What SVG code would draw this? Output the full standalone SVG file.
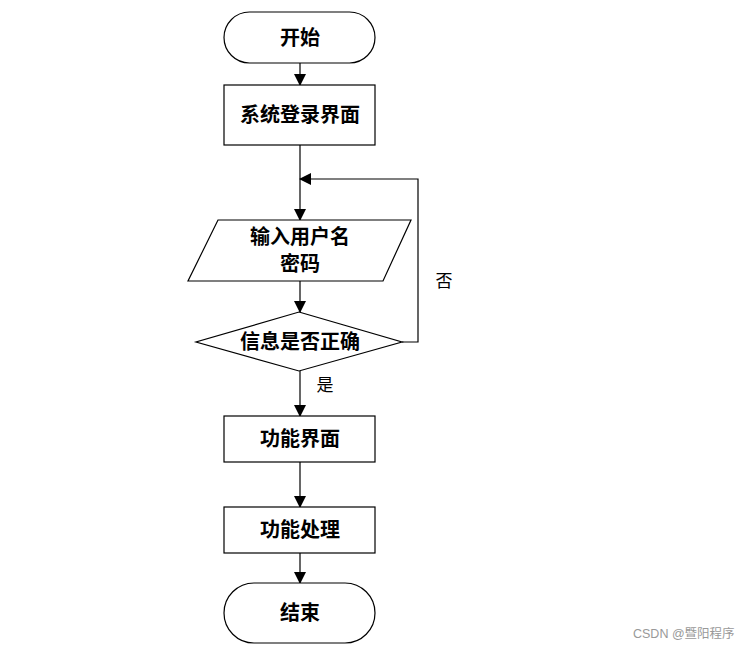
<svg xmlns="http://www.w3.org/2000/svg" width="743" height="647" viewBox="0 0 743 647">
<style>
.s{fill:#fff;stroke:#000;stroke-width:1.2}
.t{font-family:"Liberation Serif","Noto Sans CJK SC",serif;font-size:20px;font-weight:bold;fill:#000;text-anchor:middle;dominant-baseline:central}
.l{font-family:"Liberation Serif","Noto Sans CJK SC",serif;font-size:17px;fill:#000;text-anchor:middle;dominant-baseline:central}
.c{fill:none;stroke:#000;stroke-width:1.2}
.w{font-family:"Liberation Sans","Noto Sans CJK SC",sans-serif;font-size:12.5px;fill:#999}
</style>
<defs>
<marker id="a" markerWidth="12" markerHeight="12" refX="11" refY="6" orient="auto" markerUnits="userSpaceOnUse">
<path d="M0,0 L12,6 L0,12 Z" fill="#000"/>
</marker>
</defs>
<rect width="743" height="647" fill="#fff"/>
<g id="connectors">
<line class="c" x1="300" y1="63" x2="300" y2="85" marker-end="url(#a)"/>
<line class="c" x1="300" y1="145" x2="300" y2="220" marker-end="url(#a)"/>
<line class="c" x1="300" y1="281" x2="300" y2="312" marker-end="url(#a)"/>
<polyline class="c" points="402,342 418,342 418,179 300,179" marker-end="url(#a)"/>
<line class="c" x1="300" y1="371" x2="300" y2="416" marker-end="url(#a)"/>
<line class="c" x1="300" y1="462" x2="300" y2="507" marker-end="url(#a)"/>
<line class="c" x1="300" y1="553" x2="300" y2="583" marker-end="url(#a)"/>
<text class="l" x="444" y="281">否</text>
<text class="l" x="325" y="385">是</text>
</g>
<g id="start">
<rect class="s" x="224" y="12" width="151" height="51" rx="25.5"/>
<text class="t" x="300" y="38">开始</text>
</g>
<g id="login">
<rect class="s" x="224" y="85" width="151" height="60"/>
<text class="t" x="300" y="115">系统登录界面</text>
</g>
<g id="input">
<polygon class="s" points="218,220 411,220 383,281 188,281"/>
<text class="t" x="300" y="237">输入用户名</text>
<text class="t" x="300" y="264">密码</text>
</g>
<g id="check">
<polygon class="s" points="299,312 402,342 299,371 196,342"/>
<text class="t" x="300" y="342">信息是否正确</text>
</g>
<g id="func">
<rect class="s" x="224" y="416" width="151" height="46"/>
<text class="t" x="300" y="439">功能界面</text>
</g>
<g id="proc">
<rect class="s" x="224" y="507" width="151" height="46"/>
<text class="t" x="300" y="530">功能处理</text>
</g>
<g id="end">
<rect class="s" x="224" y="583" width="151" height="60" rx="30"/>
<text class="t" x="300" y="613">结束</text>
</g>
<text class="w" x="633" y="638">CSDN @暨阳程序</text>
</svg>
